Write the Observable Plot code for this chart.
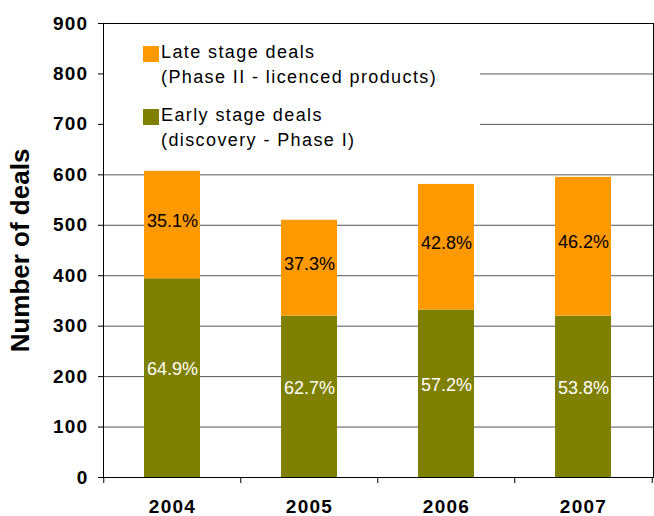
<!DOCTYPE html>
<html>
<head>
<meta charset="utf-8">
<script src="https://cdn.jsdelivr.net/npm/d3@7"></script>
<script src="https://cdn.jsdelivr.net/npm/@observablehq/plot@0.6"></script>
<style>
  body { margin: 0; background: #fff; }
  #wrap { position: relative; width: 654px; height: 516px; font-family: "Liberation Sans", Arial, Helvetica, sans-serif; }
  #legend { position: absolute; left: 104px; top: 25px; width: 376px; height: 135px; background: #fff; }
  .sw { position: absolute; width: 16px; height: 16px; }
  .lt { position: absolute; font-size: 18px; letter-spacing: 1.4px; color: #000; white-space: nowrap; line-height: 20px; }
</style>
</head>
<body>
<div id="wrap"></div>
<script>
const years = ["2004", "2005", "2006", "2007"];
const early = [394, 320, 332, 320];
const late = [213, 190, 249, 275];
const earlyPct = ["64.9%", "62.7%", "57.2%", "53.8%"];
const latePct = ["35.1%", "37.3%", "42.8%", "46.2%"];
const yTicks = [0, 100, 200, 300, 400, 500, 600, 700, 800, 900];
const gridValues = [100, 200, 300, 400, 500, 600, 700, 800];
const stages = ["Early stage deals", "Late stage deals"];
const stageColors = ["#808000", "#FF9900"];
const legendLines = [
  ["Late stage deals", "(Phase II - licenced products)"],
  ["Early stage deals", "(discovery - Phase I)"]
];

const rows = [];
years.forEach((y, i) => rows.push({year: y, stage: stages[0], value: early[i]}));
years.forEach((y, i) => rows.push({year: y, stage: stages[1], value: late[i]}));

const earlyLabels = years.map((y, i) => ({year: y, mid: early[i] / 2, text: earlyPct[i]}));
const lateLabels = years.map((y, i) => ({year: y, mid: early[i] + late[i] / 2, text: latePct[i]}));

const chart = Plot.plot({
  width: 654,
  height: 516,
  marginLeft: 103,
  marginRight: 1,
  marginTop: 23,
  marginBottom: 39,
  style: {fontFamily: "'Liberation Sans', Arial, sans-serif", background: "#fff", color: "#000"},
  x: {domain: years, paddingInner: 0.59, paddingOuter: 0.295, label: null},
  y: {domain: [0, 900], label: null},
  color: {domain: stages, range: stageColors},
  marks: [
    Plot.ruleY(gridValues, {stroke: "#555", strokeWidth: 1}),
    Plot.barY(rows, {x: "year", y: "value", fill: "stage"}),
    Plot.text(lateLabels, {x: "year", y: "mid", text: "text", fill: "#000", fontSize: 18, dy: -4}),
    Plot.text(earlyLabels, {x: "year", y: "mid", text: "text", fill: "#fff", fontSize: 18, dy: -9}),
    Plot.frame({stroke: "#000", strokeWidth: 1}),
    Plot.ruleX(years, {x: d => d, y1: 0, y2: 0, dx: -68.75, insetBottom: -6, stroke: "#000"}),
    Plot.ruleX(years.slice(-1), {x: d => d, y1: 0, y2: 0, dx: 68.75, insetBottom: -6, stroke: "#000"}),
    Plot.axisY({
      ticks: yTicks, tickSize: 5, tickPadding: 10, stroke: "#000",
      fontSize: 19, fontWeight: "bold", label: "Number of deals", labelAnchor: "center",
      labelArrow: "none", labelOffset: 93
    }),
    Plot.axisX({tickSize: 0, tickPadding: 22, fontSize: 19, fontWeight: "bold", label: null})
  ]
});

chart.querySelectorAll("g[aria-label='y-axis tick label'] text, g[aria-label='x-axis tick label'] text").forEach(t => {
  t.setAttribute("letter-spacing", "1.3");
});
chart.querySelectorAll("g[aria-label='y-axis label'] text").forEach(t => {
  t.setAttribute("font-size", "26");
  t.setAttribute("font-weight", "bold");
});

const wrap = document.getElementById("wrap");
wrap.appendChild(chart);

const legend = document.createElement("div");
legend.id = "legend";
wrap.appendChild(legend);
const swTops = [21, 84];
const lineTops = [[17, 42], [80, 105]];
[1, 0].forEach((ci, k) => {
  const sw = document.createElement("div");
  sw.className = "sw";
  sw.style.left = "39px";
  sw.style.top = swTops[k] + "px";
  sw.style.background = stageColors[ci];
  legend.appendChild(sw);
  legendLines[k].forEach((txt, j) => {
    const s = document.createElement("div");
    s.className = "lt";
    s.style.left = "57px";
    s.style.top = lineTops[k][j] + "px";
    s.textContent = txt;
    legend.appendChild(s);
  });
});
</script>
</body>
</html>
